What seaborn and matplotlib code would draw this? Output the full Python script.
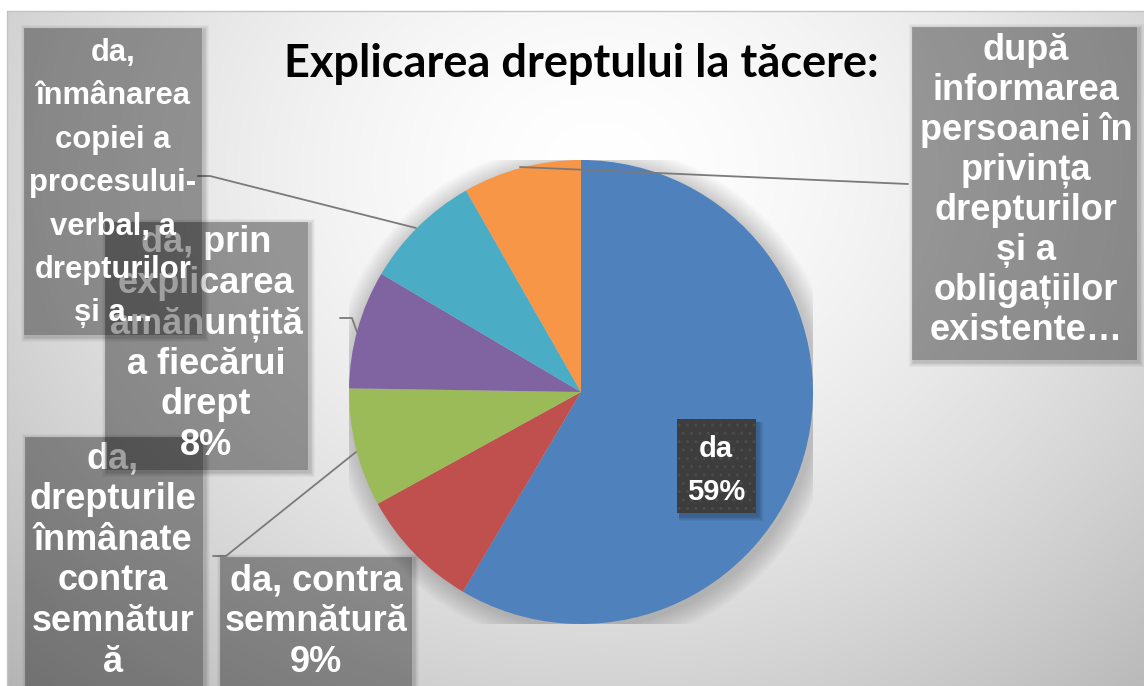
import numpy as np
import matplotlib
matplotlib.use("Agg")
import matplotlib.pyplot as plt
from matplotlib.patches import Rectangle, Circle
import seaborn as sns

# ---------------- data ----------------
categories = [
    "da",
    "da, contra semnătură",
    "da, drepturile înmânate contra semnătură",
    "da, prin explicarea amănunțită a fiecărui drept",
    "da, înmânarea copiei a procesului-verbal, a drepturilor și a...",
    "după informarea persoanei în privința drepturilor și a obligațiilor existente...",
]
values = [58.5, 8.5, 8.25, 8.25, 8.25, 8.25]
colors = ["#4F81BD", "#C0504D", "#9BBB59", "#8064A2", "#4BACC6", "#F79646"]
title = "Explicarea dreptului la tăcere:"

# wrapped label texts as shown in the chart
label_lines = [
    ["da"],
    ["da, contra", "semnătură"],
    ["da,", "drepturile", "înmânate", "contra", "semnătur", "ă"],
    ["da, prin", "explicarea", "amănunțită", "a fiecărui", "drept"],
    ["da,", "înmânarea", "copiei a", "procesului-", "verbal, a", "drepturilor", "și a..."],
    ["după", "informarea", "persoanei în", "privința", "drepturilor", "și a", "obligațiilor", "existente…"],
]
show_pct = [True, True, False, True, False, False]

# ---------------- style ----------------
sns.set_theme(style="white")
palette = sns.color_palette(colors)
plt.rcParams["font.family"] = ["Liberation Sans", "DejaVu Sans"]

W, H = 1144, 686
fig = plt.figure(figsize=(W / 100, H / 100), dpi=100)

# background gradient
ax_bg = fig.add_axes([0, 0, 1, 1], zorder=0)
yy, xx = np.mgrid[0:H, 0:W]
d = np.sqrt(((xx - 600) / 760.0) ** 2 + ((yy - 170) / 640.0) ** 2)
g = 255 - 62 * np.clip(d, 0, 1.2) ** 1.6
g = np.clip(g, 180, 255)
g[:11, :] = 255
g[:, :7] = 255
img = np.dstack([g, g, g]) / 255.0
ax_bg.imshow(img, extent=[0, W, H, 0], aspect="auto", interpolation="bilinear")
ax_bg.set_xlim(0, W)
ax_bg.set_ylim(H, 0)
ax_bg.plot([7, W], [11, 11], color="#c4c4c4", lw=1)
ax_bg.plot([7, 7], [11, H], color="#c4c4c4", lw=1)
ax_bg.axis("off")

# pie
cx, cy, R = 581, 392, 232
ax_pie = fig.add_axes([(cx - R) / W, (H - cy - R) / H, 2 * R / W, 2 * R / H], zorder=2)
ax_pie.patch.set_alpha(0)
for k in range(10, 0, -1):
    ax_pie.add_patch(Circle((0.012, -0.012), 1 + k * 0.009, color="black", alpha=0.018, lw=0))
wedges, _ = ax_pie.pie(values, colors=palette, startangle=90, counterclock=False,
                       radius=1, wedgeprops=dict(linewidth=0))
for w in wedges:
    w.set_zorder(5)
ax_pie.set_xlim(-1, 1)
ax_pie.set_ylim(-1, 1)
ax_pie.set_aspect("equal")
ax_pie.axis("off")

# overlay for labels
ax = fig.add_axes([0, 0, 1, 1], zorder=3)
ax.patch.set_alpha(0)
ax.set_xlim(0, W)
ax.set_ylim(H, 0)
ax.axis("off")

total = sum(values)
pct = [f"{int(v / total * 100 + 0.5)}%" for v in values]

fig.text(581 / W, 1 - 77 / H, title, ha="center", va="baseline", fontsize=32.5,
         fontweight="bold", family=["Lato", "DejaVu Sans"], color="black", zorder=10)

# leader lines
lc = "#7a7a7a"
ax.plot([198, 210, 416], [176, 176, 228], color=lc, lw=1.3, zorder=1)
ax.plot([340, 352, 357], [318, 318, 332], color=lc, lw=1.3, zorder=1)
ax.plot([213, 226, 356], [556, 556, 452], color=lc, lw=1.3, zorder=1)
ax.plot([520, 908], [167, 184], color=lc, lw=1.3, zorder=1)


def draw_box(x0, y0, x1, y1, z):
    n = 6
    a_ring = 0.03
    a_main = 1 - 0.64 / (1 - a_ring) ** n
    for k in range(n, 0, -1):
        ax.add_patch(Rectangle((x0 - k * 0.8 + 2, y0 - k * 0.8 + 2), x1 - x0 + 1.6 * k,
                               y1 - y0 + 1.6 * k, facecolor="black", alpha=a_ring, lw=0, zorder=z))
    ax.add_patch(Rectangle((x0, y0), x1 - x0, y1 - y0, facecolor="black", alpha=a_main,
                           lw=0, zorder=z))


def draw_lines(lines, xc, y0, step, z, size, family):
    for i, t in enumerate(lines):
        ax.text(xc, y0 + i * step, t, ha="center", va="baseline", fontsize=size,
                fontweight="bold", color="white", family=family, zorder=z)


lib = ["Liberation Sans", "DejaVu Sans"]

# boxes: (index, box, text center x, first baseline, step, font)
box_specs = [
    (2, (25, 437, 203, 700), 113, 468, 40.8, 26, lib),
    (1, (220, 557, 412, 700), 316, 590, 41, 26, lib),
    (3, (105, 222, 308, 470), 206, 252, 40.6, 26, lib),
    (4, (24, 28, 202, 335), 113, 61, 43.4, 22.3, lib),
    (5, (912, 27, 1137, 360), 1026, 60, 40.0, 26, lib),
]
z = 4
for idx, (x0, y0, x1, y1), xc, b0, st, fs, fam in box_specs:
    lines = list(label_lines[idx])
    if show_pct[idx]:
        lines = lines + [pct[idx]]
    draw_box(x0, y0, x1, y1, z)
    draw_lines(lines, xc, b0, st, z + 1, fs, fam)
    z += 2

# blue data label
for k in range(5, 0, -1):
    ax.add_patch(Rectangle((677 + 2, 419 + 3), 79 + k, 94 + k, facecolor="black",
                           alpha=0.05, lw=0, zorder=z))
ax.add_patch(Rectangle((677, 419), 79, 94, facecolor="#3d3d3d", edgecolor="#4c4c4c",
                       hatch="..", lw=0, zorder=z + 1))
ax.text(716, 457, label_lines[0][0], ha="center", va="baseline", fontsize=21,
        fontweight="bold", color="white", family=lib, zorder=z + 2)
ax.text(716, 500, pct[0], ha="center", va="baseline", fontsize=21,
        fontweight="bold", color="white", family=lib, zorder=z + 2)

fig.savefig("out.png", dpi=100)
